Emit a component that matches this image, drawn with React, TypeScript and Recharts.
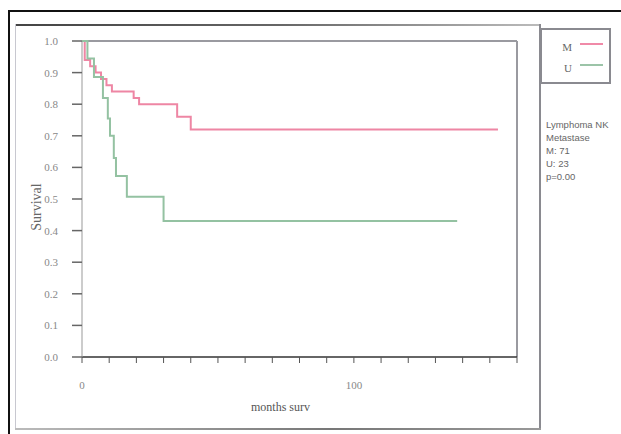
import { Legend, Line, LineChart, ReferenceLine, XAxis, YAxis } from "recharts";

// months / survival
const monthsM = [0, 1, 3, 5, 7, 9, 11, 19, 21, 35, 40, 153];
const survM = [1.0, 0.94, 0.92, 0.9, 0.88, 0.86, 0.84, 0.82, 0.8, 0.76, 0.72, 0.72];
const monthsU = [0, 2, 4.4, 7.7, 9.5, 10.3, 11.7, 12.5, 16.5, 30, 138];
const survU = [1.0, 0.945, 0.886, 0.82, 0.755, 0.7, 0.63, 0.573, 0.507, 0.43, 0.43];
const yTicks = [0, 0.1, 0.2, 0.3, 0.4, 0.5, 0.6, 0.7, 0.8, 0.9, 1.0];
const xTicks = [0, 10, 20, 30, 40, 50, 60, 70, 80, 90, 100, 110, 120, 130, 140, 150, 160];
const xLabelled = [0, 100];
const notes = ["Lymphoma NK", "Metastase", "M: 71", "U: 23", "p=0.00"];

const dataM = monthsM.map((t, i) => ({ t, s: survM[i] }));
const dataU = monthsU.map((t, i) => ({ t, s: survU[i] }));

const serif = "'Liberation Serif', 'DejaVu Serif', serif";

function XTick(props: any) {
  const { x, y, payload } = props;
  if (!xLabelled.includes(payload.value)) return null;
  return (
    <text x={x} y={y + 24} textAnchor="middle" fontSize={11} fill="#888" fontFamily={serif}>
      {payload.value}
    </text>
  );
}

function YTick(props: any) {
  const { x, y, payload } = props;
  return (
    <text x={x - 12} y={y + 4} textAnchor="end" fontSize={11} fill="#888" fontFamily={serif}>
      {payload.value.toFixed(1)}
    </text>
  );
}

function LegendBox() {
  const row = (name: string, color: string) => (
    <div style={{ display: "flex", alignItems: "center", height: 21 }}>
      <span style={{ width: 30, textAlign: "right", fontSize: 11, color: "#666", fontFamily: serif }}>{name}</span>
      <span style={{ display: "inline-block", width: 23, height: 2, background: color, marginLeft: 8, marginTop: -6 }} />
    </div>
  );
  return (
    <div style={{ width: 71, height: 56, border: "2px solid #8a8a90", background: "#fff", paddingTop: 6, boxSizing: "border-box" }}>
      {row("M", "#f08aa8")}
      {row("U", "#9cc4a8")}
    </div>
  );
}

export default function App() {
  return (
    <div style={{ position: "absolute", left: 0, top: 0, width: 621, height: 434, background: "#fff", overflow: "hidden" }}>
      <div style={{ position: "absolute", left: 8, top: 10, width: 2, height: 424, background: "#111" }} />
      <div style={{ position: "absolute", left: 8, top: 10, width: 613, height: 2, background: "#111" }} />
      <div style={{ position: "absolute", left: 15, top: 24, width: 525, height: 2, background: "linear-gradient(to right, #444, #666 50%, #bbb)" }} />
      <div style={{ position: "absolute", left: 15, top: 24, width: 1, height: 405, background: "#c8c8d0" }} />
      <div style={{ position: "absolute", left: 539, top: 24, width: 2, height: 406, background: "#8a8a90" }} />
      <div style={{ position: "absolute", left: 15, top: 428, width: 526, height: 2, background: "linear-gradient(to right, #bbb, #777 60%, #999)" }} />
      <div style={{ position: "absolute", left: 546, top: 118, fontSize: 9.5, lineHeight: "13px", color: "#666", fontFamily: "'Liberation Sans', sans-serif", whiteSpace: "nowrap" }}>
        {notes.map((n) => (
          <div key={n}>{n}</div>
        ))}
      </div>
      <div style={{ position: "absolute", left: 0, top: 0 }}>
        <LineChart width={621} height={434} margin={{ top: 41, right: 104, bottom: 17, left: 32 }}>
          <XAxis
            type="number"
            dataKey="t"
            domain={[0, 160]}
            ticks={xTicks}
            interval={0}
            tickSize={6}
            tickLine={{ stroke: "#555" }}
            axisLine={{ stroke: "#333", strokeWidth: 1.5 }}
            tick={<XTick />}
            height={60}
            allowDuplicatedCategory={false}
            label={{ value: "months surv", position: "insideBottom", offset: 6, dx: -19, fontSize: 12, fill: "#555", fontFamily: serif }}
          />
          <YAxis
            type="number"
            dataKey="s"
            domain={[0, 1]}
            ticks={yTicks}
            interval={0}
            tickSize={10}
            tickLine={{ stroke: "#666", strokeWidth: 1.5 }}
            axisLine={{ stroke: "#999" }}
            tick={<YTick />}
            width={50}
            label={{ value: "Survival", angle: -90, position: "insideLeft", offset: 4, dy: 8, fontSize: 14, fill: "#666", fontFamily: serif, style: { textAnchor: "middle" } }}
          />
          <ReferenceLine y={1} stroke="#9a9aa0" strokeWidth={2} />
          <ReferenceLine x={160} stroke="#9a9aa0" strokeWidth={2} />
          <Legend
            layout="vertical"
            align="center"
            verticalAlign="middle"
            wrapperStyle={{ left: 540, top: 28, width: 73, height: 58 }}
            content={() => <LegendBox />}
          />
          <Line data={dataM} dataKey="s" name="M" type="stepAfter" stroke="#ee86a4" strokeWidth={2} dot={false} isAnimationActive={false} />
          <Line data={dataU} dataKey="s" name="U" type="stepAfter" stroke="#94c2a2" strokeWidth={2} dot={false} isAnimationActive={false} />
        </LineChart>
      </div>
    </div>
  );
}
